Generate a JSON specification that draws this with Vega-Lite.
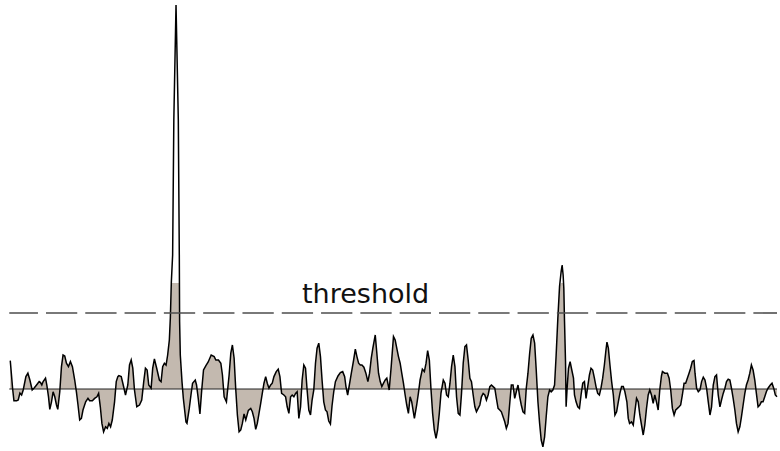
{
  "$schema": "https://vega.github.io/schema/vega-lite/v6.json",
  "width": 780,
  "height": 451,
  "padding": 0,
  "autosize": {"type": "fit", "contains": "padding"},
  "background": "white",
  "config": {"view": {"stroke": null}},
  "datasets": {
    "signal": [
      {"t":10.3,"v":1.42},{"t":12.7,"v":0},{"t":14,"v":-0.59},{"t":16.7,"v":-0.59},{"t":18.3,"v":-0.55},{"t":20,"v":-0.2},{"t":21.7,"v":-0.3},{"t":23.3,"v":-0.05},{"t":26,"v":0.62},{"t":28,"v":0.79},{"t":30,"v":0.45},{"t":32.3,"v":-0.05},{"t":34.3,"v":0.05},{"t":36.7,"v":0.2},{"t":39.3,"v":0.37},{"t":40.7,"v":0.32},{"t":42,"v":0.2},{"t":43.3,"v":0.37},{"t":45.7,"v":0.54},{"t":47,"v":0.2},{"t":48.7,"v":-0.39},{"t":50,"v":-1.02},{"t":51.7,"v":-0.64},{"t":53.3,"v":-0.14},{"t":55,"v":-0.39},{"t":56.7,"v":-0.8},{"t":58,"v":-1.02},{"t":60,"v":-0.14},{"t":61.7,"v":1.12},{"t":63.3,"v":1.7},{"t":65,"v":1.65},{"t":66.7,"v":1.29},{"t":68.7,"v":1.12},{"t":70.7,"v":1.37},{"t":72.7,"v":1.12},{"t":75,"v":0.45},{"t":76.7,"v":-0.14},{"t":78.3,"v":-0.8},{"t":80,"v":-1.55},{"t":81.7,"v":-1.47},{"t":83.3,"v":-1.05},{"t":86,"v":-0.64},{"t":88.3,"v":-0.47},{"t":90,"v":-0.59},{"t":92.7,"v":-0.59},{"t":95,"v":-0.47},{"t":97.3,"v":-0.39},{"t":99,"v":-0.22},{"t":100.7,"v":-0.89},{"t":102.3,"v":-1.72},{"t":104,"v":-2.14},{"t":106,"v":-1.89},{"t":107.7,"v":-1.97},{"t":109.3,"v":-1.72},{"t":111,"v":-1.89},{"t":112.7,"v":-1.55},{"t":115,"v":-0.64},{"t":116.7,"v":0.37},{"t":118.3,"v":0.62},{"t":119.3,"v":0.67},{"t":121.7,"v":0.62},{"t":123.3,"v":0.29},{"t":126,"v":-0.3},{"t":128.3,"v":0.2},{"t":130,"v":1.2},{"t":131.7,"v":1.45},{"t":133.3,"v":1.04},{"t":135,"v":-0.05},{"t":137.3,"v":-0.89},{"t":140,"v":-0.8},{"t":142.3,"v":-0.55},{"t":144.3,"v":0.37},{"t":146,"v":1.04},{"t":147.7,"v":0.95},{"t":149.3,"v":0.2},{"t":151.7,"v":0.04},{"t":153.3,"v":1.04},{"t":155,"v":1.5},{"t":157.3,"v":1.04},{"t":160,"v":0.45},{"t":161.7,"v":0.37},{"t":163.3,"v":1.12},{"t":165,"v":1.29},{"t":166.7,"v":1.2},{"t":168.3,"v":1.7},{"t":170,"v":2.45},{"t":171,"v":3.55},{"t":172,"v":5.35},{"t":173.3,"v":6.7},{"t":174.5,"v":13.45},{"t":176.7,"v":19.2},{"t":179,"v":13.45},{"t":180,"v":6.7},{"t":180.3,"v":3.37},{"t":181,"v":1.7},{"t":182.7,"v":0.37},{"t":184,"v":-0.45},{"t":186.7,"v":-1.65},{"t":187.7,"v":-1.72},{"t":190,"v":-0.97},{"t":191.7,"v":-0.3},{"t":193.3,"v":0.29},{"t":196,"v":0.45},{"t":197.3,"v":0.2},{"t":199,"v":-0.47},{"t":200.7,"v":-1.25},{"t":202.5,"v":-0.05},{"t":204.3,"v":0.95},{"t":206.7,"v":1.17},{"t":209,"v":1.35},{"t":212,"v":1.7},{"t":215,"v":1.62},{"t":216.7,"v":1.45},{"t":219.3,"v":1.45},{"t":221.7,"v":1.29},{"t":223.3,"v":0.7},{"t":225,"v":-0.39},{"t":227.3,"v":-0.64},{"t":230,"v":0.7},{"t":231.7,"v":1.79},{"t":233.3,"v":2.2},{"t":235,"v":1.55},{"t":236.7,"v":-0.05},{"t":238.3,"v":-1.3},{"t":240,"v":-2.14},{"t":241.7,"v":-2.05},{"t":243.3,"v":-1.72},{"t":245,"v":-1.25},{"t":246.7,"v":-1.55},{"t":249.3,"v":-1.07},{"t":251.7,"v":-0.97},{"t":253.3,"v":-1.14},{"t":255,"v":-1.47},{"t":256.7,"v":-2.02},{"t":258.3,"v":-1.72},{"t":260,"v":-1.22},{"t":261.7,"v":-0.72},{"t":263.3,"v":-0.22},{"t":265,"v":0.29},{"t":266.7,"v":0.62},{"t":268.3,"v":0.29},{"t":270,"v":0.04},{"t":271.7,"v":0.2},{"t":273.3,"v":0.29},{"t":275,"v":0.62},{"t":277.3,"v":0.87},{"t":279.3,"v":0.99},{"t":281,"v":0.62},{"t":282.7,"v":-0.22},{"t":285,"v":-0.3},{"t":286.7,"v":-0.39},{"t":288.3,"v":-0.89},{"t":290,"v":-1.22},{"t":291.7,"v":-0.39},{"t":293.3,"v":-0.3},{"t":295,"v":-0.39},{"t":296.7,"v":-0.22},{"t":298.3,"v":-0.14},{"t":300,"v":-1.47},{"t":301.7,"v":-0.89},{"t":303.3,"v":0.45},{"t":305,"v":1.2},{"t":306.7,"v":1.04},{"t":308.3,"v":-0.05},{"t":310,"v":-1.05},{"t":311.7,"v":-1.3},{"t":313.3,"v":-0.55},{"t":315,"v":-0.05},{"t":316.7,"v":1.29},{"t":318.3,"v":2.04},{"t":320,"v":2.29},{"t":321.7,"v":1.62},{"t":323.3,"v":0.45},{"t":325,"v":-0.64},{"t":326.7,"v":-1.05},{"t":328.3,"v":-1.14},{"t":330,"v":-1.6},{"t":331.7,"v":-1.75},{"t":333.3,"v":-0.85},{"t":335,"v":-0.15},{"t":336.7,"v":0.37},{"t":339.3,"v":0.65},{"t":341.7,"v":0.82},{"t":344,"v":0.87},{"t":346,"v":0.62},{"t":347.3,"v":0.12},{"t":349,"v":-0.3},{"t":350.7,"v":0.2},{"t":352.7,"v":0.79},{"t":355,"v":1.45},{"t":356.7,"v":1.99},{"t":358.3,"v":1.62},{"t":360,"v":1.29},{"t":361.7,"v":1.2},{"t":363.3,"v":1.2},{"t":365.3,"v":1.09},{"t":367.3,"v":0.79},{"t":369.3,"v":0.37},{"t":371,"v":0.79},{"t":372.7,"v":1.54},{"t":374.3,"v":2.04},{"t":376.7,"v":2.7},{"t":378.3,"v":1.79},{"t":380,"v":0.79},{"t":381.7,"v":0.37},{"t":383.3,"v":0.12},{"t":385,"v":0.29},{"t":386.7,"v":0.45},{"t":388.3,"v":0.54},{"t":390.7,"v":-0.05},{"t":392.7,"v":1.12},{"t":395,"v":2.62},{"t":396.7,"v":2.45},{"t":398.3,"v":2.04},{"t":400,"v":1.62},{"t":401.7,"v":1.29},{"t":403.3,"v":0.79},{"t":405,"v":0.29},{"t":406.7,"v":-0.3},{"t":408.3,"v":-0.8},{"t":410,"v":-1.22},{"t":411.7,"v":-0.39},{"t":413.3,"v":-0.64},{"t":416,"v":-1.47},{"t":418.3,"v":-0.8},{"t":420,"v":-0.22},{"t":421.7,"v":0.45},{"t":424,"v":0.99},{"t":426,"v":0.87},{"t":427.7,"v":1.29},{"t":429.3,"v":1.92},{"t":431,"v":1.45},{"t":432.7,"v":-0.05},{"t":434.3,"v":-1.22},{"t":436,"v":-2.05},{"t":437.7,"v":-2.47},{"t":439.3,"v":-2.05},{"t":441,"v":-1.22},{"t":442.7,"v":-0.2},{"t":445,"v":0.45},{"t":446.7,"v":0.29},{"t":448.3,"v":-0.3},{"t":450,"v":-0.39},{"t":451.7,"v":0.29},{"t":453.3,"v":1.12},{"t":455,"v":1.7},{"t":456.7,"v":1.12},{"t":458.3,"v":-0.39},{"t":460,"v":-1.22},{"t":461.7,"v":-1.3},{"t":463.3,"v":-0.22},{"t":465,"v":1.29},{"t":466.7,"v":2.12},{"t":468.3,"v":2.2},{"t":470,"v":1.45},{"t":471.7,"v":0.54},{"t":473.3,"v":0.37},{"t":475,"v":-0.3},{"t":476.7,"v":-0.89},{"t":478.3,"v":-1.14},{"t":480,"v":-0.97},{"t":481.7,"v":-0.8},{"t":483.3,"v":-0.39},{"t":485,"v":-0.22},{"t":486.7,"v":-0.3},{"t":488.3,"v":-0.55},{"t":490,"v":-0.3},{"t":491.7,"v":0.12},{"t":493.3,"v":0.2},{"t":495,"v":0.12},{"t":496.7,"v":0.04},{"t":498.3,"v":-0.47},{"t":500,"v":-0.97},{"t":501.7,"v":-1.05},{"t":503.3,"v":-1.14},{"t":505,"v":-1.39},{"t":506.7,"v":-1.64},{"t":508.3,"v":-1.97},{"t":510,"v":-1.72},{"t":511.7,"v":-0.72},{"t":513.3,"v":0.2},{"t":515,"v":0.2},{"t":516.7,"v":-0.47},{"t":518.3,"v":-0.14},{"t":520,"v":0.2},{"t":521.7,"v":-0.39},{"t":523.3,"v":-0.8},{"t":525,"v":-1.14},{"t":526.7,"v":-1.22},{"t":528.3,"v":0.04},{"t":530,"v":0.79},{"t":531.7,"v":1.79},{"t":533.3,"v":2.54},{"t":535,"v":2.7},{"t":536.7,"v":2.29},{"t":538.3,"v":0.95},{"t":540,"v":-0.64},{"t":541.7,"v":-1.72},{"t":543.3,"v":-2.55},{"t":545,"v":-2.89},{"t":546.7,"v":-2.39},{"t":548.3,"v":-1.39},{"t":550,"v":-0.39},{"t":551.7,"v":-0.05},{"t":553.3,"v":-0.14},{"t":555,"v":-0.05},{"t":556.7,"v":0.2},{"t":558.3,"v":1.7},{"t":560,"v":3.54},{"t":561.7,"v":5.12},{"t":563.3,"v":5.87},{"t":564.3,"v":6.2},{"t":565.3,"v":5.7},{"t":566,"v":5.04},{"t":566.7,"v":3.37},{"t":567.7,"v":1.37},{"t":568.3,"v":-0.89},{"t":569.3,"v":0.04},{"t":570.7,"v":1.04},{"t":572.3,"v":1.37},{"t":574,"v":0.95},{"t":575.7,"v":0.54},{"t":576.7,"v":-0.3},{"t":578.3,"v":-0.64},{"t":580,"v":-0.89},{"t":581.7,"v":-0.97},{"t":583.3,"v":-0.3},{"t":585,"v":0.29},{"t":586.7,"v":0.37},{"t":588.3,"v":-0.47},{"t":590,"v":0.12},{"t":591.7,"v":0.7},{"t":593.3,"v":1.04},{"t":595,"v":0.95},{"t":596.7,"v":0.54},{"t":598.3,"v":0.12},{"t":600,"v":-0.22},{"t":601.7,"v":-0.3},{"t":603.3,"v":0.04},{"t":605,"v":0.54},{"t":606.7,"v":1.2},{"t":608.3,"v":1.95},{"t":609.3,"v":2.34},{"t":610.7,"v":2.04},{"t":612.3,"v":1.2},{"t":614,"v":0.37},{"t":615.7,"v":-0.3},{"t":617.3,"v":-1.3},{"t":619,"v":-1.14},{"t":620.7,"v":-0.64},{"t":622.3,"v":-0.22},{"t":624,"v":0.12},{"t":625.7,"v":0.12},{"t":627.3,"v":-0.14},{"t":629.3,"v":-0.64},{"t":630.7,"v":-1.47},{"t":632,"v":-1.72},{"t":634,"v":-1.64},{"t":635.7,"v":-1.8},{"t":637.3,"v":-1.14},{"t":639,"v":-0.47},{"t":640.7,"v":-0.64},{"t":642.3,"v":-1.3},{"t":644,"v":-1.8},{"t":645.7,"v":-2.3},{"t":647.3,"v":-1.8},{"t":649,"v":-0.97},{"t":650.7,"v":-0.3},{"t":652.3,"v":-0.05},{"t":654,"v":-0.3},{"t":655.7,"v":-0.72},{"t":657.3,"v":-0.3},{"t":659,"v":-0.64},{"t":660.7,"v":-1.05},{"t":662.3,"v":-0.05},{"t":664,"v":0.65},{"t":665,"v":0.87},{"t":667.3,"v":0.79},{"t":670,"v":0.79},{"t":671.7,"v":0.54},{"t":673.3,"v":-0.05},{"t":675,"v":-0.97},{"t":676.7,"v":-1.3},{"t":678.3,"v":-1.05},{"t":680,"v":-0.97},{"t":681.7,"v":-0.89},{"t":683.3,"v":-0.8},{"t":685,"v":-0.3},{"t":686.7,"v":0.29},{"t":688.3,"v":0.29},{"t":690,"v":0.54},{"t":691.7,"v":0.79},{"t":693.3,"v":1.04},{"t":695,"v":1.37},{"t":696.7,"v":1.42},{"t":697.7,"v":0.79},{"t":699.3,"v":0.04},{"t":701,"v":-0.14},{"t":702.7,"v":-0.05},{"t":704.3,"v":0.37},{"t":706,"v":0.59},{"t":707.7,"v":0.45},{"t":709.3,"v":0.04},{"t":711,"v":-0.64},{"t":712.7,"v":-1.3},{"t":714.3,"v":-0.89},{"t":716,"v":0.2},{"t":717.7,"v":0.62},{"t":719.3,"v":0.7},{"t":721,"v":-0.3},{"t":722.7,"v":-0.89},{"t":724.3,"v":-0.55},{"t":726,"v":-0.22},{"t":727.7,"v":0.04},{"t":729.3,"v":0.37},{"t":731,"v":0.49},{"t":732.7,"v":0.45},{"t":734.3,"v":0.04},{"t":736,"v":-0.47},{"t":737.7,"v":-1.05},{"t":739.3,"v":-1.72},{"t":741,"v":-2.14},{"t":742.7,"v":-1.89},{"t":744.3,"v":-1.39},{"t":746,"v":-0.8},{"t":747.7,"v":-0.22},{"t":749.3,"v":0.2},{"t":751,"v":0.45},{"t":752.7,"v":0.79},{"t":754.3,"v":1.2},{"t":756,"v":0.95},{"t":757.7,"v":0.45},{"t":759.3,"v":-0.22},{"t":761,"v":-0.89},{"t":762.7,"v":-0.8},{"t":764.3,"v":-0.64},{"t":766,"v":-0.64},{"t":767.7,"v":-0.39},{"t":769.3,"v":-0.14},{"t":771,"v":0.04},{"t":773.3,"v":0.2},{"t":775,"v":0.29},{"t":776.7,"v":0.04},{"t":778.3,"v":-0.3},{"t":780,"v":-0.39}
    ]
  },
  "resolve": {"scale": {"y": "independent"}},
  "layer": [
    {
      "data": {"name": "signal"},
      "mark": {"type": "area", "color": "#c3b9af", "opacity": 1, "interpolate": "linear"},
      "encoding": {
        "x": {"field": "t", "type": "quantitative", "axis": null, "scale": {"domain": [0, 780], "nice": false, "zero": false}},
        "y": {"field": "v", "type": "quantitative", "axis": null, "scale": {"domain": [-3.1, 5.3], "range": [451, 283], "clamp": true, "nice": false, "zero": false}},
        "y2": {"datum": 0}
      }
    },
    {
      "data": {"values": [{"base": 0}]},
      "mark": {"type": "rule", "color": "#222222", "strokeWidth": 1},
      "encoding": {
        "x": {"datum": 9.3, "type": "quantitative", "axis": null, "scale": {"domain": [0, 780], "nice": false, "zero": false}},
        "x2": {"datum": 780},
        "y": {"field": "base", "type": "quantitative", "axis": null, "scale": {"domain": [-3.1, 19.45], "nice": false, "zero": false}}
      }
    },
    {
      "data": {"name": "signal"},
      "mark": {"type": "line", "color": "#000000", "strokeWidth": 1.5, "interpolate": "linear"},
      "encoding": {
        "x": {"field": "t", "type": "quantitative", "axis": null, "scale": {"domain": [0, 780], "nice": false, "zero": false}},
        "y": {"field": "v", "type": "quantitative", "axis": null, "scale": {"domain": [-3.1, 19.45], "nice": false, "zero": false}}
      }
    },
    {
      "data": {"values": [{"threshold": 3.8}]},
      "mark": {"type": "rule", "color": "#4d4d4d", "strokeWidth": 1.6, "strokeDash": [31.3, 8], "strokeDashOffset": 2.6},
      "encoding": {
        "x": {"datum": 9.3, "type": "quantitative", "axis": null, "scale": {"domain": [0, 780], "nice": false, "zero": false}},
        "x2": {"datum": 780},
        "y": {"field": "threshold", "type": "quantitative", "axis": null, "scale": {"domain": [-3.1, 19.45], "nice": false, "zero": false}}
      }
    },
    {
      "data": {"values": [{"label": "threshold", "lx": 367, "ly": 4.285}]},
      "mark": {"type": "text", "font": "DejaVu Sans", "fontSize": 27, "color": "#111111", "align": "center", "baseline": "alphabetic"},
      "encoding": {
        "text": {"field": "label"},
        "x": {"field": "lx", "type": "quantitative", "axis": null, "scale": {"domain": [0, 780], "nice": false, "zero": false}},
        "y": {"field": "ly", "type": "quantitative", "axis": null, "scale": {"domain": [-3.1, 19.45], "nice": false, "zero": false}}
      }
    }
  ]
}
